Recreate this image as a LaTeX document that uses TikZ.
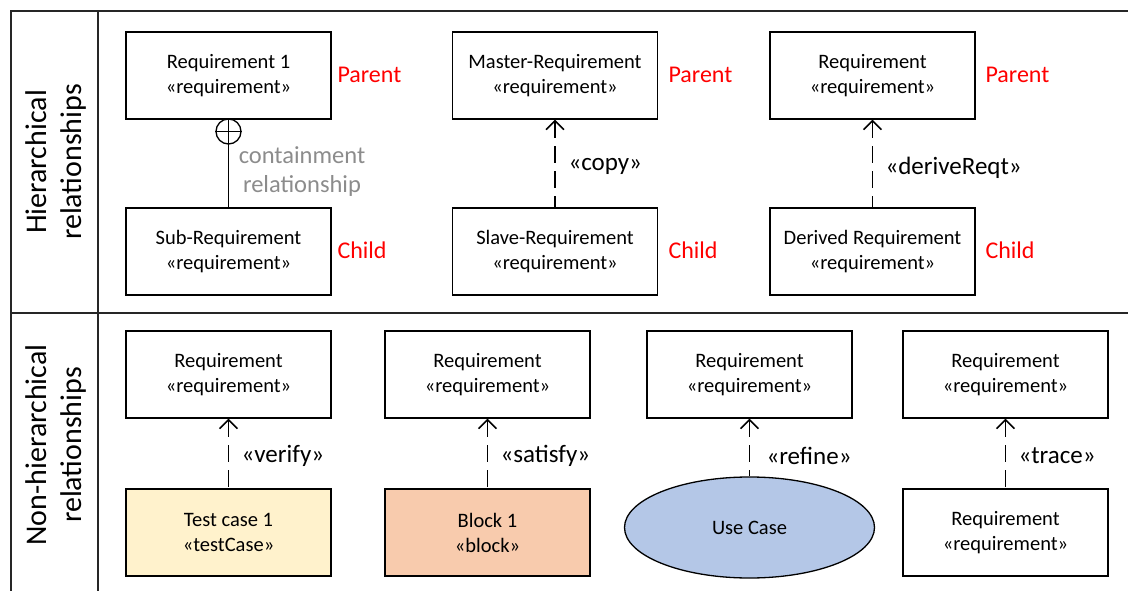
\documentclass[tikz,border=0pt]{standalone}
\usepackage{fontspec}
\setmainfont{Carlito}
\usetikzlibrary{arrows.meta,shapes.geometric}
\definecolor{testfill}{HTML}{FFF2CC}
\definecolor{blockfill}{HTML}{F8CBAD}
\definecolor{ucfill}{HTML}{B4C7E7}
\definecolor{contgray}{HTML}{8C8C8C}
\begin{document}
\begin{tikzpicture}[x=1pt,y=-1pt,
    req/.style={draw,line width=1.3pt,minimum width=205pt,minimum height=87pt,
      inner sep=0pt,align=center,font=\fontsize{20.5}{25}\selectfont},
    role/.style={anchor=west,text=red,font=\fontsize{24}{29}\selectfont},
    stereo/.style={anchor=west,font=\fontsize{25}{30}\selectfont},
    dep/.style={line width=1.5pt,dash pattern=on 17pt off 8pt,
      {Straight Barb[length=9pt,width=18pt]}-},
    rowlabel/.style={rotate=90,align=center,font=\fontsize{30}{35}\selectfont}]
  \useasboundingbox (0,0) rectangle (1128,591);
  % table frame
  \draw[line width=2.2pt,black!85] (1128,11) -- (11,11) -- (11,591);
  \draw[line width=2.2pt,black!85] (98,11) -- (98,591);
  \draw[line width=2.2pt,black!85] (11,313) -- (1128,313);
  \node[rowlabel] (hier) at (56,162) {Hierarchical\\relationships};
  \node[rowlabel] (nonhier) at (56,445) {Non-hierarchical\\relationships};
  % hierarchical row
  \node[req] (req1) at (228.5,75.5) {Requirement 1\\«requirement»};
  \node[req] (sub) at (228.5,251.5) {Sub-Requirement\\«requirement»};
  \node[req] (master) at (555,75.5) {Master-Requirement\\«requirement»};
  \node[req] (slave) at (555,251.5) {Slave-Requirement\\«requirement»};
  \node[req] (reqr) at (872.5,75.5) {Requirement\\«requirement»};
  \node[req] (derived) at (872.5,251.5) {Derived Requirement\\«requirement»};
  \node[role] (p1) at (334,75) {Parent};
  \node[role] (c1) at (334,250) {Child};
  \node[role] (p2) at (665,75) {Parent};
  \node[role] (c2) at (665,250) {Child};
  \node[role] (p3) at (982,75) {Parent};
  \node[role] (c3) at (982,250) {Child};
  \node[circle,draw,line width=1.3pt,minimum size=25pt,inner sep=0pt,fill=white] (cont) at (228.5,131.5) {};
  \draw[line width=1.3pt] (cont.north) -- (cont.south) (cont.west) -- (cont.east);
  \draw[line width=1.5pt] (cont.south) -- (sub.north);
  \node[align=center,text=contgray,font=\fontsize{24.5}{29}\selectfont] (contlbl) at (302,172) {containment\\relationship};
  \draw[dep] (master) -- (slave);
  \node[stereo] (copy) at (565,166) {«copy»};
  \draw[dep] (reqr) -- (derived);
  \node[stereo] (derive) at (882,168) {«deriveReqt»};
  % non-hierarchical row
  \node[req] (r1) at (228.5,374.5) {Requirement\\«requirement»};
  \node[req] (r2) at (487.5,374.5) {Requirement\\«requirement»};
  \node[req] (r3) at (749.5,374.5) {Requirement\\«requirement»};
  \node[req] (r4) at (1005.5,374.5) {Requirement\\«requirement»};
  \node[req,fill=testfill] (test) at (228.5,532.5) {Test case 1\\«testCase»};
  \node[req,fill=blockfill] (block) at (487.5,532.5) {Block 1\\«block»};
  \node[ellipse,draw,line width=1.3pt,fill=ucfill,minimum width=250pt,minimum height=101pt,
    inner sep=0pt,font=\fontsize{20.5}{25}\selectfont] (uc) at (749.5,527.5) {Use Case};
  \node[req] (r5) at (1005.5,532.5) {Requirement\\«requirement»};
  \draw[dep] (r1) -- (test);
  \node[stereo] (verify) at (238,456) {«verify»};
  \draw[dep] (r2) -- (block);
  \node[stereo] (satisfy) at (497,456) {«satisfy»};
  \draw[dep] (r3) -- (uc);
  \node[stereo] (refine) at (763,456) {«refine»};
  \draw[dep] (r4) -- (r5);
  \node[stereo] (trace) at (1015,456) {«trace»};
\end{tikzpicture}
\end{document}
